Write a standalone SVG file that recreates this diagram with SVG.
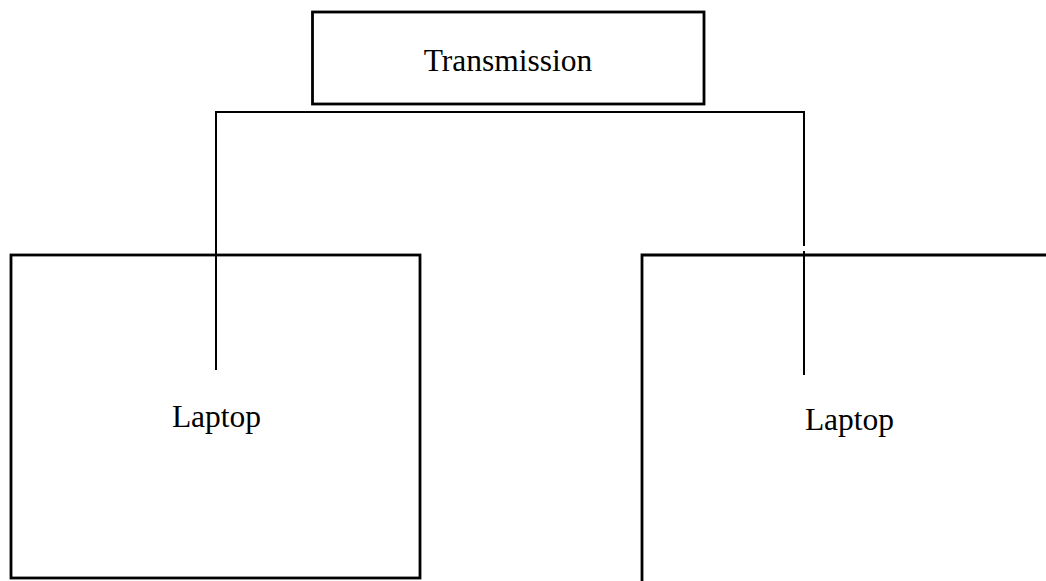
<svg xmlns="http://www.w3.org/2000/svg" width="1046" height="581" viewBox="0 0 1046 581">
<style>
.box{fill:none;stroke:#000;stroke-width:2.8}
.ln{fill:none;stroke:#000;stroke-width:2}
.t{font-family:"Liberation Serif","Times New Roman",serif;font-size:31.5px;fill:#000;text-anchor:middle}
</style>
<rect width="1046" height="581" fill="#fff"/>
<g id="transmission">
<rect class="box" x="312.5" y="12" width="391.5" height="92"/>
<text class="t" x="508" y="70.5">Transmission</text>
</g>
<g id="laptop-left">
<rect class="box" x="11" y="255" width="409" height="323"/>
<text class="t" x="216.5" y="427">Laptop</text>
</g>
<g id="laptop-right">
<path class="box" d="M642,590 V255 H1050"/>
<text class="t" x="849.5" y="430">Laptop</text>
</g>
<g id="connectors">
<path class="ln" d="M216,370 V112 H804 V246"/>
<path class="ln" d="M804,251 V375"/>
</g>
</svg>
